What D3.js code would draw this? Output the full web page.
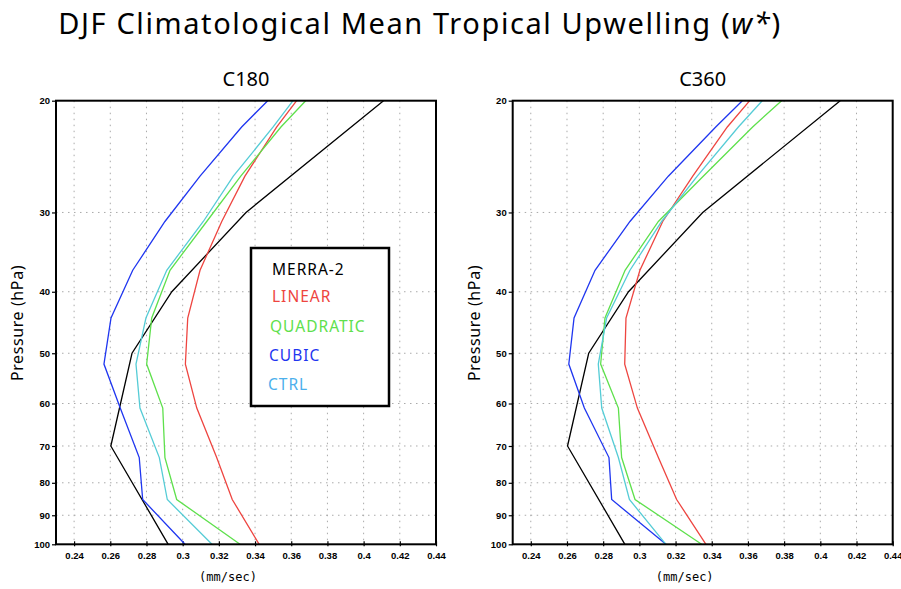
<!DOCTYPE html>
<html>
<head>
<meta charset="utf-8">
<script src="https://cdn.jsdelivr.net/npm/d3@7"></script>
<style>
  body { margin: 0; background: #fff; }
  svg { display: block; }
  .tick-lbl { font-family: "Liberation Sans", Arial, sans-serif; font-weight: bold; font-size: 9.5px; fill: #000; }
  .grid line { stroke: #aaa; stroke-width: 1; stroke-dasharray: 1.5,4.5; }
</style>
</head>
<body>
<div id="canvas"></div>
<script>
// ---- DATA ----
var modelLevels = [20, 22, 26.3, 31, 37, 44, 52, 61, 73, 85, 100];
var merraLevels = [20, 30, 40, 50, 70, 100];

var merra2 = [0.411, 0.335, 0.294, 0.272, 0.2603, 0.292];

// C180
var c180Linear    = [0.363, 0.352, 0.3344, 0.3216, 0.3096, 0.3028, 0.3015, 0.3078, 0.3188, 0.3274, 0.3423];
var c180Quadratic = [0.368, 0.3543, 0.3321, 0.3133, 0.293, 0.2829, 0.2801, 0.289, 0.2902, 0.2967, 0.3317];
var c180Cubic     = [0.347, 0.3326, 0.3096, 0.2902, 0.2724, 0.2604, 0.2565, 0.2655, 0.276, 0.2779, 0.3013];
var c180Ctrl      = [0.361, 0.350, 0.328, 0.3114, 0.2912, 0.2797, 0.2742, 0.2764, 0.2871, 0.2915, 0.3162];

// C360
var c360Linear    = [0.361, 0.3486, 0.3295, 0.3129, 0.3003, 0.2926, 0.2919, 0.2989, 0.3105, 0.3206, 0.3368];
var c360Quadratic = [0.3786, 0.3626, 0.3353, 0.3105, 0.2921, 0.281, 0.2786, 0.2884, 0.2902, 0.2976, 0.3344];
var c360Cubic     = [0.3569, 0.3422, 0.316, 0.2948, 0.2755, 0.2639, 0.261, 0.2696, 0.2832, 0.2847, 0.3147];
var c360Ctrl      = [0.3679, 0.3547, 0.332, 0.3123, 0.2948, 0.2819, 0.2773, 0.2792, 0.2884, 0.2945, 0.3147];

var xTicks = [0.24, 0.26, 0.28, 0.3, 0.32, 0.34, 0.36, 0.38, 0.4, 0.42, 0.44];
var yTicks = [20, 30, 40, 50, 60, 70, 80, 90, 100];

var seriesNames  = ['MERRA-2', 'LINEAR', 'QUADRATIC', 'CUBIC', 'CTRL'];
var seriesColors = ['#000000', '#ee4540', '#5ee04c', '#1f36f0', '#55ccd6'];
var legendColors = ['#000000', '#ee4540', '#5ee04c', '#1f36f0', '#4cb0ec'];

var panels = [
  { title: 'C180', left: 56, runs: [c180Linear, c180Quadratic, c180Cubic, c180Ctrl], legend: true },
  { title: 'C360', left: 512.7, runs: [c360Linear, c360Quadratic, c360Cubic, c360Ctrl], legend: false }
];

// ---- CONVENTIONS ----
var outerWidth = 901, outerHeight = 589;
var plotTop = 100.7, plotBottom = 544.3, plotWidth = 380;
var textFont = '"Noto Sans", Lato, sans-serif';

var svg = d3.select('#canvas')
    .append('svg')
    .attr('width', outerWidth)
    .attr('height', outerHeight);

// main title
var title = svg.append('text')
    .attr('x', 420)
    .attr('y', 34)
    .attr('text-anchor', 'middle')
    .style('font-family', textFont)
    .style('font-size', '29px')
    .style('letter-spacing', '1.6px')
    .style('fill', '#000');
title.append('tspan').text('DJF Climatological Mean Tropical Upwelling (');
title.append('tspan').style('font-style', 'italic').text('w*');
title.append('tspan').text(')');

// ---- SCALES ----
var scaleY = d3.scaleLog()
    .domain([20, 100])
    .range([plotTop, plotBottom]);

var lineGenerator = d3.line()
    .x(function(d){ return d.x; })
    .y(function(d){ return scaleY(d.p); });

panels.forEach(function(panel){
    var scaleX = d3.scaleLinear()
        .domain([0.23, 0.44])
        .range([panel.left, panel.left + plotWidth]);

    var g = svg.append('g');

    // panel title
    g.append('text')
        .attr('x', panel.left + plotWidth / 2)
        .attr('y', 86)
        .attr('text-anchor', 'middle')
        .style('font-family', textFont)
        .style('font-size', '20px')
        .text(panel.title);

    // grid
    var grid = g.append('g').attr('class', 'grid');
    grid.selectAll('.gx')
        .data(xTicks.slice(0, -1))
        .enter().append('line')
        .attr('x1', function(d){ return scaleX(d); })
        .attr('x2', function(d){ return scaleX(d); })
        .attr('y1', plotTop)
        .attr('y2', plotBottom);
    grid.selectAll('.gy')
        .data(yTicks.slice(1, -1))
        .enter().append('line')
        .attr('x1', panel.left)
        .attr('x2', panel.left + plotWidth)
        .attr('y1', function(d){ return scaleY(d); })
        .attr('y2', function(d){ return scaleY(d); });

    // axes (ticks + labels)
    var axisX = d3.axisBottom(scaleX)
        .tickValues(xTicks)
        .tickSize(4)
        .tickFormat(function(d){ return d3.format('')(+d.toFixed(2)); });
    var axisY = d3.axisLeft(scaleY)
        .tickValues(yTicks)
        .tickSize(4)
        .tickFormat(d3.format('d'));

    var ax = g.append('g')
        .attr('transform', 'translate(0,' + plotBottom + ')')
        .call(axisX);
    var ay = g.append('g')
        .attr('transform', 'translate(' + panel.left + ',0)')
        .call(axisY);
    [ax, ay].forEach(function(a){
        a.select('.domain').remove();
        a.selectAll('.tick line').attr('stroke', '#000').attr('stroke-width', 1.2);
        a.selectAll('.tick text').attr('class', 'tick-lbl');
    });
    ax.selectAll('.tick line').attr('y2', -3).attr('y1', 2);
    ax.selectAll('.tick text').attr('dy', '0.9em').attr('y', 6);
    ay.selectAll('.tick text').attr('x', -6);

    // series
    var series = [{ vals: merra2, levels: merraLevels, color: seriesColors[0] }];
    panel.runs.forEach(function(run, i){
        series.push({ vals: run, levels: modelLevels, color: seriesColors[i + 1] });
    });
    g.selectAll('.series')
        .data(series)
        .enter().append('path')
        .attr('class', 'series')
        .attr('d', function(s){
            return lineGenerator(s.vals.map(function(v, i){ return { x: scaleX(v), p: s.levels[i] }; }));
        })
        .style('fill', 'none')
        .style('stroke', function(s){ return s.color; })
        .style('stroke-width', 1.3);

    // frame
    g.append('rect')
        .attr('x', panel.left)
        .attr('y', plotTop)
        .attr('width', plotWidth)
        .attr('height', plotBottom - plotTop)
        .style('fill', 'none')
        .style('stroke', '#000')
        .style('stroke-width', 2);

    // axis titles
    g.append('text')
        .attr('x', panel.left + 172)
        .attr('y', 581)
        .attr('text-anchor', 'middle')
        .style('font-family', '"DejaVu Sans Mono", monospace')
        .style('font-size', '12px')
        .text('(mm/sec)');

    g.append('text')
        .attr('transform', 'translate(' + (panel.left - 33) + ',' + 323 + ') rotate(-90)')
        .attr('text-anchor', 'middle')
        .style('font-family', textFont)
        .style('font-size', '16px')
        .style('letter-spacing', '0.6px')
        .text('Pressure  (hPa)');

    // legend
    if (panel.legend) {
        var lg = g.append('g');
        lg.append('rect')
            .attr('x', 251)
            .attr('y', 248)
            .attr('width', 138)
            .attr('height', 158)
            .style('fill', '#fff')
            .style('stroke', '#000')
            .style('stroke-width', 2.5);
        var legendX = [272, 272, 270, 269, 268];
        var legendY = [275, 302, 332, 361, 390];
        lg.selectAll('.leg')
            .data(seriesNames)
            .enter().append('text')
            .attr('x', function(d, i){ return legendX[i]; })
            .attr('y', function(d, i){ return legendY[i]; })
            .style('font-family', textFont)
            .style('font-size', '15.5px')
            .style('letter-spacing', '1px')
            .style('fill', function(d, i){ return legendColors[i]; })
            .text(function(d){ return d; });
    }
});
</script>
</body>
</html>
